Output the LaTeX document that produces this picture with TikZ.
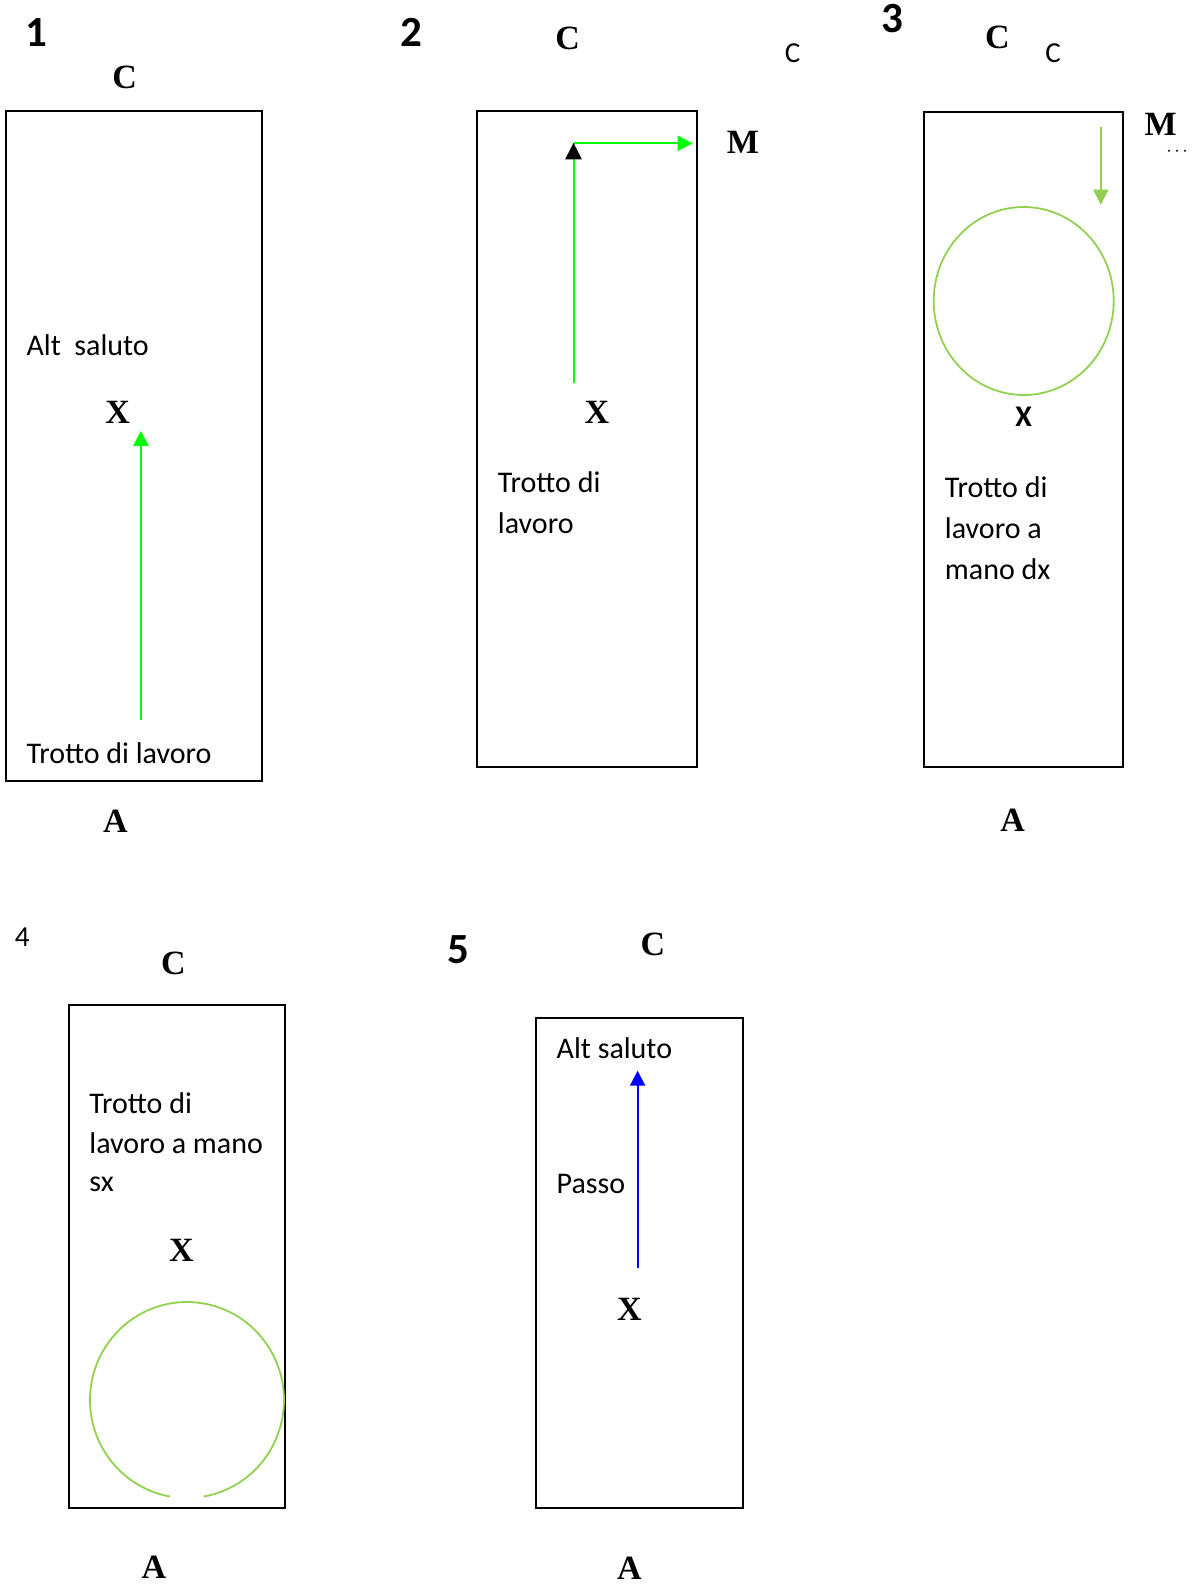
\documentclass[tikz,border=0pt]{standalone}
\usepackage{fontspec}
\setmainfont{Carlito}
\newfontfamily\tnr{Liberation Serif}
\usetikzlibrary{arrows.meta}
\definecolor{brightgreen}{HTML}{00FF00}
\definecolor{lightgreen}{HTML}{92D050}
\begin{document}
\begin{tikzpicture}[x=1pt,y=-1pt,
  arena/.style={draw=black,line width=2pt},
  lbl/.style={inner sep=0pt,font=\tnr\bfseries\fontsize{34}{36}\selectfont},
  num/.style={inner sep=0pt,font=\bfseries\fontsize{43}{45}\selectfont},
  txt/.style={inner sep=0pt,anchor=west,font=\fontsize{30}{36}\selectfont},
  smallc/.style={inner sep=0pt,font=\fontsize{29}{35}\selectfont},
  gpath/.style={draw=brightgreen,line width=2pt},
  tip/.style={-{Triangle[length=15pt,width=15pt]}},
]
\useasboundingbox (0,0) rectangle (1194,1589);

% ---------- Panel 1 ----------
\node[num] (n1) at (36.5,32.4) {1};
\node[lbl] (c1) at (124.7,77) {C};
\draw[arena] (6.1,111.5) rectangle (261.5,780.5);
\node[txt] (alt1) at (26.4,345.6) {Alt\ \ saluto};
\node[lbl] (x1) at (117.6,412.5) {X};
\coordinate (p1s) at (140.9,719.7);
\coordinate (p1e) at (140.9,430.8);
\draw[gpath,tip,brightgreen] (p1s) -- (p1e);
\node[txt] (tr1) at (26.4,753) {Trotto di lavoro};
\node[lbl] (a1) at (115.5,821) {A};

% ---------- Panel 2 ----------
\node[num] (n2) at (411.5,32.4) {2};
\node[lbl] (c2) at (567.6,38.5) {C};
\node[smallc] (c2b) at (792.6,52.7) {C};
\draw[arena] (477.4,111.5) rectangle (697.4,767.3);
\coordinate (p2s) at (573.5,383);
\coordinate (p2c) at (573.5,143.3);
\coordinate (p2e) at (692.7,143.3);
\draw[gpath] (p2s) -- (p2c);
\fill[black] (p2c) ++(0,-0.5) -- ++(-8.3,16.5) -- ++(16.6,0) -- cycle;
\draw[gpath,tip,brightgreen] (p2c) -- (p2e);
\node[lbl] (m2) at (743,142) {M};
\node[lbl] (x2) at (597,412.5) {X};
\node[txt] (tr2a) at (497.7,482.5) {Trotto di};
\node[txt] (tr2b) at (497.7,523) {lavoro};

% ---------- Panel 3 ----------
\node[num] (n3) at (892,18.2) {3};
\node[lbl] (c3) at (997.4,37.5) {C};
\node[smallc] (c3b) at (1053,52.7) {C};
\draw[arena] (924.4,112.5) rectangle (1123,767.3);
\node[lbl] (m3) at (1160.6,124.7) {M};
\foreach \xx in {1169,1177,1185} \fill[black] (\xx,150.7) circle (1.1);
\coordinate (p3s) at (1100.8,126.7);
\coordinate (p3e) at (1100.8,204.7);
\draw[draw=lightgreen,line width=2pt,tip,lightgreen] (p3s) -- (p3e);
\draw[draw=lightgreen,line width=1.8pt] (1023.7,301) ellipse [x radius=90,y radius=94];
\node[inner sep=0pt,font=\bfseries\fontsize{30}{34}\selectfont] (x3) at (1023.7,416.6) {X};
\node[txt] (tr3a) at (944.7,487.5) {Trotto di};
\node[txt] (tr3b) at (944.7,528) {lavoro a};
\node[txt] (tr3c) at (944.7,569.6) {mano dx};
\node[lbl] (a3) at (1012.6,820) {A};

% ---------- Panel 4 ----------
\node[smallc] (n4) at (22.3,937.6) {4};
\node[lbl] (c4) at (173.3,963) {C};
\draw[arena] (68.9,1004.5) rectangle (284.8,1508.2);
\node[txt] (tr4a) at (89.2,1102.8) {Trotto di};
\node[txt] (tr4b) at (89.2,1143.3) {lavoro a mano};
\node[txt] (tr4c) at (89.2,1184) {sx};
\node[lbl] (x4) at (181.4,1250.8) {X};
\draw[draw=lightgreen,line width=1.8pt] (187,1400) ++(100:97 and 98) arc[start angle=100,end angle=440,x radius=97,y radius=98];
\node[lbl] (a4) at (154,1567) {A};

% ---------- Panel 5 ----------
\node[num] (n5) at (458.2,949.8) {5};
\node[lbl] (c5) at (652.8,944.7) {C};
\draw[arena] (536.2,1017.7) rectangle (743,1508.2);
\node[txt] (alt5) at (556.5,1048) {Alt saluto};
\coordinate (p5s) at (637.6,1268);
\coordinate (p5e) at (637.6,1070.7);
\draw[draw=blue,line width=2pt,tip,blue] (p5s) -- (p5e);
\node[txt] (pa5) at (556.5,1184) {Passo};
\node[lbl] (x5) at (629.4,1309.6) {X};
\node[lbl] (a5) at (629.4,1568) {A};
\end{tikzpicture}
\end{document}
